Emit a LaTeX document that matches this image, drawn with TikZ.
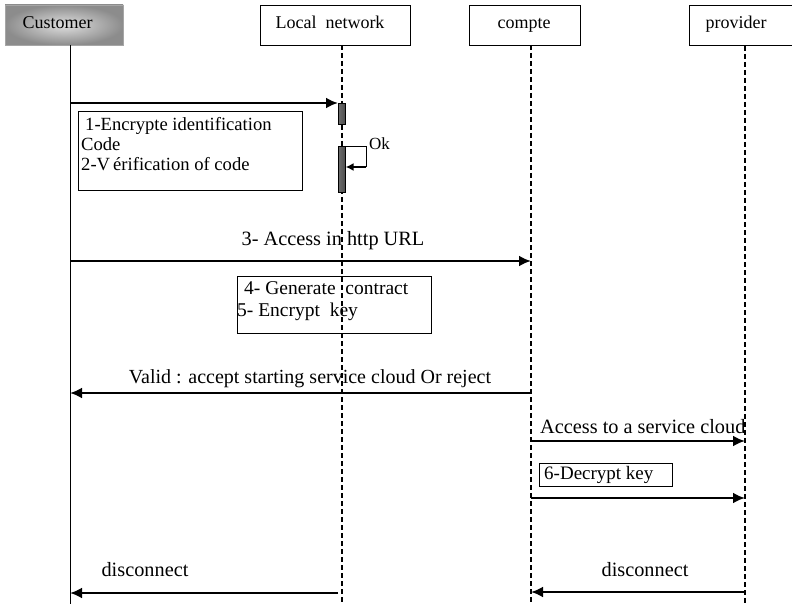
\documentclass[tikz,border=0pt]{standalone}
\usepackage{fontspec}
\setmainfont{Liberation Serif}
\usetikzlibrary{arrows.meta}
\begin{document}
\begin{tikzpicture}[x=1pt,y=-1pt,
  actor/.style={draw,line width=0.9pt,minimum height=40pt,inner sep=0pt},
  actorname/.style={font=\fontsize{18}{20}\selectfont,inner sep=0pt,anchor=base},
  lifeline/.style={line width=2pt,dash pattern=on 5pt off 3pt},
  msg/.style={line width=2.6pt,-{Latex[length=12pt,width=11pt]}},
  box/.style={draw,line width=0.9pt,inner sep=0pt,anchor=north west},
  lbl/.style={font=\fontsize{20.3}{22}\selectfont,inner sep=0pt},
  actbar/.style={draw,line width=0.6pt,left color=gray!85!black,right color=gray!60!black,inner sep=0pt,minimum width=7pt,anchor=north west}]
\useasboundingbox (0,0) rectangle (792,604);

% participants
\node[actor,minimum width=118pt,inner color=gray!25,outer color=gray!90,draw=gray!70] (cust) at (64,25) {};
\node[actor,minimum width=150pt] (lan) at (335,25) {};
\node[actor,minimum width=111pt] (cpt) at (524.5,25) {};
\node[actor,minimum width=104pt,anchor=west] (prov) at (689,25.5) {};
\node[actorname] (custn) at (57.5,29) {Customer};
\node[actorname] (lann) at (330,29) {Local\ \ network};
\node[actorname] (cptn) at (524,29) {compte};
\node[actorname] (provn) at (736,29) {provider};

% lifelines
\coordinate (custEnd) at (70,604);
\coordinate (lanEnd) at (342,604);
\coordinate (cptEnd) at (531,604);
\coordinate (provEnd) at (745,604);
\draw[line width=0.8pt] (70,45) -- (custEnd);
\draw[lifeline] (342,45) -- (lanEnd);
\draw[lifeline] (531,45) -- (cptEnd);
\draw[lifeline] (745,46) -- (provEnd);

% activation bars on the local network
\node[actbar,minimum height=21pt] (act1) at (338,103) {};
\node[actbar,minimum height=46pt] (act2) at (338,146) {};

% step 1 : customer -> local network
\coordinate (m1s) at (70,103);
\draw[msg] (m1s) -- (act1.north west);
\node[box,minimum width=224pt,minimum height=79pt] (n1) at (78,111) {};
\node[lbl,anchor=north west,align=left,font=\fontsize{18.6}{20}\selectfont] (t1) at (81,117)
  {\hspace*{4pt}1-Encrypte identification\\Code\\2-V\,érification of code};
% self check "Ok"
\coordinate (ok1) at (366,147);
\coordinate (ok2) at (366,167);
\draw[line width=1pt] (act2.north east |- 0,147) -- (ok1) -- (ok2);
\draw[line width=2.4pt,-{Latex[length=8pt,width=8pt]}] (ok2) -- (act2.east |- 0,167);
\node[lbl,anchor=west,font=\fontsize{17}{20}\selectfont] (okl) at (369,144) {Ok};

% step 3 : access to the account
\coordinate (m3s) at (70,261);
\coordinate (m3e) at (531,261);
\draw[msg] (m3s) -- (m3e);
\node[lbl] (l3) at (333,241) {3- Access in http URL};
\node[box,minimum width=194pt,minimum height=57pt] (n4) at (237,276) {};
\node[lbl,anchor=north west,align=left,font=\fontsize{19.5}{22}\selectfont] (t4) at (237,281) {\hspace*{7pt}4- Generate\ \ contract\\5- Encrypt\ \ key};

% answer to the customer
\coordinate (m4s) at (531,393);
\coordinate (m4e) at (70,393);
\draw[msg] (m4s) -- (m4e);
\node[lbl,font=\fontsize{20}{22}\selectfont] (l4) at (310,379) {Valid : accept starting service cloud Or reject};

% compte -> provider
\coordinate (m5s) at (531,441);
\coordinate (m5e) at (745,441);
\draw[msg] (m5s) -- (m5e);
\node[lbl,anchor=west] (l5) at (540,427) {Access to a service cloud};
\node[box,minimum width=133pt,minimum height=23pt] (n6) at (539,463) {};
\node[lbl,anchor=west,font=\fontsize{19}{20}\selectfont] (t6) at (544,475) {6-Decrypt key};
\coordinate (m6s) at (531,498);
\coordinate (m6e) at (745,498);
\draw[msg] (m6s) -- (m6e);

% disconnections
\coordinate (d1s) at (338,593);
\coordinate (d1e) at (70,593);
\draw[msg] (d1s) -- (d1e);
\node[lbl] (ld1) at (145,570) {disconnect};
\coordinate (d2s) at (745,592);
\coordinate (d2e) at (531,592);
\draw[msg] (d2s) -- (d2e);
\node[lbl] (ld2) at (645,570) {disconnect};
\end{tikzpicture}
\end{document}
